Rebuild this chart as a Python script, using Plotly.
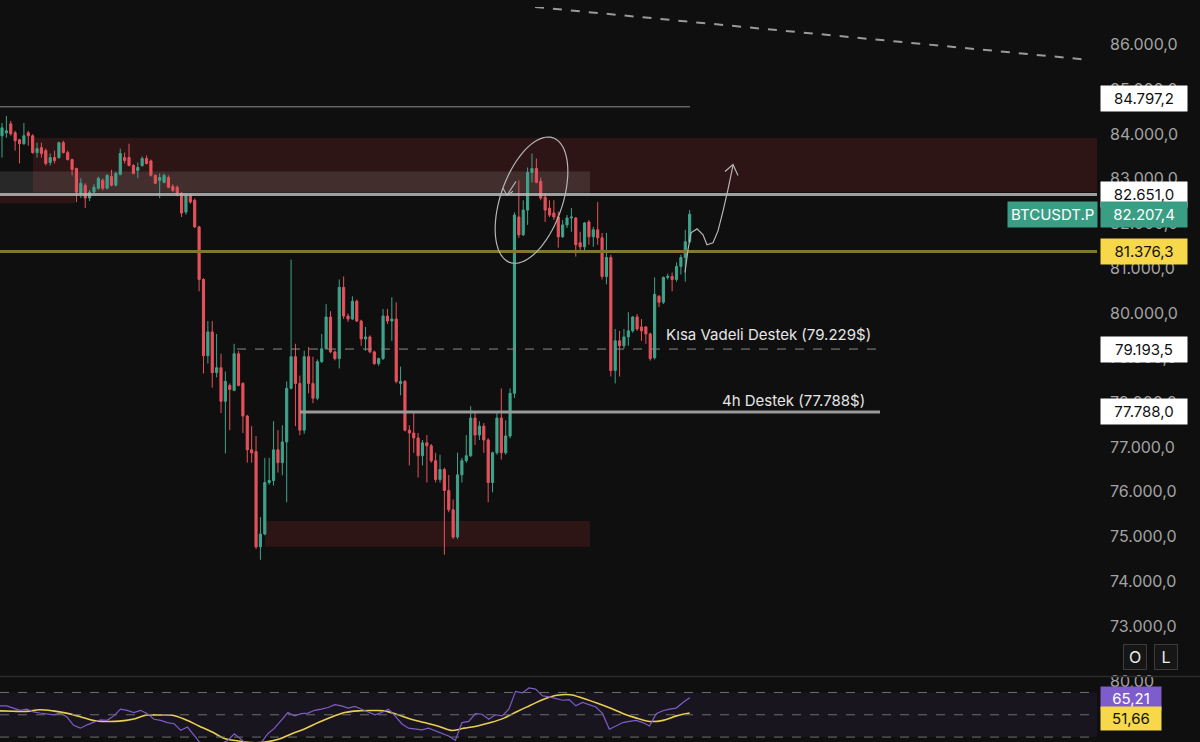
import numpy as np
import plotly.graph_objects as go

# ---------------- data ----------------
opens = [83963, 84029, 84229, 84029, 83874, 83785, 84029, 83963, 83586, 83697,
         83630, 83365, 83475, 83475, 83808, 83586, 83430, 83230, 82680, 82855,
         82570, 82700, 82790, 82970, 82790, 83050, 82855, 83100, 83475, 83475,
         83298, 83188, 83298, 83453, 83400, 83077, 82965, 82920, 83030, 82830,
         82810, 82680, 82257, 82634, 82520, 81925, 80750, 79045, 79577, 78666,
         78776, 78025, 78380, 78270, 79089, 78425, 77695, 76940, 76900, 74770,
         75058, 76210, 76254, 76940, 76653, 77115, 78315, 79023, 78425, 77380,
         79023, 78425, 78093, 78912, 79200, 79910, 79130, 78980, 80573, 79931,
         79865, 80263, 79820, 79420, 79465, 79130, 78868, 78980, 79931, 79820,
         79865, 78425, 78470, 77380, 77317, 77206, 76808, 77096, 77030, 76697,
         76276, 76500, 76030, 75600, 74990, 76380, 76697, 76808, 77650, 77270,
         77470, 77160, 76210, 76874, 77650, 76874, 77250, 78203, 82146, 81747,
         82300, 83143, 83232, 82945, 82590, 82345, 82235, 82146, 81703, 81969,
         82124, 82124, 81570, 81480, 82035, 81703, 81860, 81680, 80817, 81240,
         78712, 79377, 79266, 79465, 79600, 79910, 79687, 79687, 79532, 79000,
         80374, 80240, 80795, 80817, 80750, 81040, 81240, 81592]
highs = [84250, 84405, 84295, 84073, 83896, 84250, 84073, 84000, 83808, 83808,
         83675, 83564, 83630, 83830, 83852, 83630, 83450, 83250, 83010, 82900,
         82750, 82880, 83050, 83010, 83100, 83200, 83160, 83675, 83586, 83785,
         83330, 83365, 83500, 83520, 83430, 83100, 83120, 83120, 83077, 82880,
         82855, 82700, 82680, 82680, 82560, 81950, 80780, 79820, 79820, 79530,
         79090, 78690, 78425, 79311, 79150, 78450, 77720, 77470, 77250, 75435,
         76760, 76760, 77580, 77380, 77490, 78470, 81194, 79311, 78600, 79155,
         79240, 79023, 78960, 79532, 80197, 80040, 79160, 80750, 80817, 79990,
         80374, 80300, 79850, 79687, 79500, 79160, 79000, 80090, 80090, 80352,
         80240, 78800, 78500, 77490, 77780, 77317, 77160, 77270, 77070, 76874,
         76830, 76540, 76380, 75830, 76874, 76760, 77270, 77915, 77805, 77580,
         77540, 77200, 76900, 77760, 78315, 77600, 78315, 82250, 82965, 82520,
         83254, 83564, 83453, 83030, 82680, 82520, 82520, 82270, 82080, 82190,
         82345, 82146, 81815, 82035, 82080, 81925, 82480, 81790, 81790, 81304,
         79643, 79600, 79643, 80020, 79931, 79975, 79865, 79710, 79560, 80795,
         80400, 80817, 80880, 80905, 81130, 81304, 81860, 82300]
lows = [83475, 83918, 83963, 83630, 83343, 83760, 83741, 83560, 83475, 83475,
        83298, 83298, 83343, 83450, 83564, 83410, 83077, 82480, 82570, 82345,
        82500, 82680, 82760, 82740, 82760, 82830, 82830, 83077, 83343, 83280,
        83100, 83010, 83270, 83320, 83050, 82880, 82570, 82900, 82790, 82700,
        82610, 82146, 82200, 82440, 81900, 80485, 78646, 78868, 78330, 78560,
        77760, 76860, 77380, 78250, 78360, 77317, 76653, 76653, 74725, 74480,
        75030, 76160, 76140, 76431, 76370, 75767, 78290, 77470, 77270, 77300,
        78203, 77982, 78050, 78880, 79180, 79100, 78940, 78760, 79865, 79800,
        79840, 79800, 79266, 79155, 79100, 78840, 78820, 78950, 79754, 79377,
        78425, 78160, 77350, 76590, 76874, 76320, 76590, 76210, 76650, 76210,
        76210, 74593, 75545, 74947, 74947, 76210, 76650, 76780, 77050, 77160,
        76874, 75767, 75988, 76830, 76720, 76830, 77200, 78100, 81680, 81720,
        81969, 82920, 82900, 82520, 82035, 82146, 82080, 81460, 81680, 81900,
        81815, 81260, 81370, 81350, 81526, 81480, 81526, 80750, 80640, 78580,
        78425, 78580, 79200, 79266, 79560, 79600, 79377, 79311, 78935, 78960,
        80130, 80200, 80750, 80485, 80700, 80861, 80700, 81560]
closes = [84140, 84073, 84007, 83852, 83785, 83963, 83963, 83586, 83675, 83564,
          83343, 83475, 83410, 83808, 83586, 83430, 83210, 82700, 82900, 82570,
          82700, 82810, 83010, 82790, 83077, 82855, 83120, 83564, 83410, 83298,
          83120, 83254, 83453, 83343, 83077, 82900, 83030, 83077, 82810, 82744,
          82680, 82235, 82634, 82480, 81925, 80750, 79045, 79577, 78666, 78776,
          78025, 78470, 78290, 79089, 78380, 77695, 76940, 76874, 74770, 75058,
          76210, 76254, 76940, 76653, 77115, 78315, 79023, 78425, 77380, 79023,
          78425, 78093, 78912, 79200, 79910, 79130, 78980, 80573, 79931, 79865,
          80263, 79820, 79420, 79465, 79130, 78868, 78980, 79931, 79820, 79865,
          78470, 78470, 77380, 77317, 77206, 76808, 77096, 77030, 76697, 76276,
          76500, 76030, 75600, 74990, 76380, 76697, 76808, 77650, 77270, 77470,
          77160, 76210, 76874, 77650, 76874, 77250, 78203, 82190, 81747, 82300,
          83143, 83232, 82920, 82570, 82300, 82190, 82146, 81703, 81969, 82124,
          82146, 81526, 81480, 82013, 81703, 81860, 81680, 80817, 81240, 78712,
          79377, 79266, 79465, 79600, 79910, 79643, 79600, 79532, 78980, 80418,
          80240, 80795, 80817, 80750, 81040, 81240, 81592, 82207.4]

rsi_vals = [58, 58, 56, 54, 55, 52.6, 51.6, 50.5, 50, 51.5,
            48, 40.5, 38, 41, 43.5, 45.5, 45, 49, 55, 54,
            52, 54, 51, 46, 45, 43, 42, 36, 39, 32,
            24, 22, 21, 24, 27, 33, 28, 23, 22, 25,
            33, 38, 45, 52, 49, 51, 51.5, 54, 55, 56.5,
            59, 58, 56, 57.5, 55, 52.5, 50, 52, 55, 49,
            42, 38, 37.5, 36.5, 38, 35.5, 33.5, 31, 27, 43,
            44, 51, 50.5, 46, 50, 49, 55, 71, 69.6, 74,
            73, 67, 66, 64.6, 63, 63.6, 58, 61, 59, 57,
            51, 37, 40, 43, 44, 45, 43, 40, 51, 53.6,
            55, 56, 61, 65.21]
rsi_ma = [53.5, 53.2, 53, 54.5, 53.5, 51.5, 48.5, 45, 44, 44.3,
          46, 49.5, 49.8, 49.5, 45.5, 40, 34.5, 28.5, 26.5, 25,
          25.5, 28, 33, 37.5, 43, 48, 52, 53.5, 53.8, 53.5,
          50, 46, 43, 40, 36, 38, 40, 43, 47, 53,
          58.5, 64, 67.5, 68, 64.6, 60.5, 56, 51, 47, 44,
          45, 49, 51.66]

price_ticks = [73000, 74000, 75000, 76000, 77000, 78000, 79000, 80000,
               81000, 82000, 83000, 84000, 85000, 86000]
price_tick_text = ["73.000,0", "74.000,0", "75.000,0", "76.000,0", "77.000,0",
                   "78.000,0", "79.000,0", "80.000,0", "81.000,0", "82.000,0",
                   "83.000,0", "84.000,0", "85.000,0", "86.000,0"]

level_high = 84797.2
level_high_line = 84610
level_resist = 82651.0
level_yellow = 81376.3
level_short = 79193.5
level_4h = 77788.0
last_price = 82207.4
rsi_last = 65.21
ma_last = 51.66

zone_top = (83918, 82700)
zone_left = (82651, 82456)
zone_gray = (83165, 82676)
zone_bottom = (75347, 74771)

# ---------------- layout geometry ----------------
W, H = 1200, 742
R = 103
PW = W - R
C0, DX = 2.0, 4.38          # pixel of first candle & candle spacing
Y_TOP, PPX = 86842.0, 22.15  # price at top pixel, price per pixel
MAIN_BOTTOM_PX = 675
RSI_TOP_PX = 677

def ix(px):
    return (px - C0) / DX

def pr(py):
    return Y_TOP - PPX * py

x_range = [ix(0), ix(PW)]
main_range = [pr(MAIN_BOTTOM_PX), Y_TOP]
rsi_range = [25.6, 83.3]

BG = "#0f0f0f"
GREEN = "#3fa38a"
RED = "#e5525c"
FONT = "Inter, Roboto, sans-serif"
DRAW = "#b5b5b5"

n = len(closes)
xs = list(range(n))

fig = go.Figure()

fig.add_trace(go.Candlestick(
    x=xs, open=opens, high=highs, low=lows, close=closes,
    increasing=dict(line=dict(color=GREEN, width=1), fillcolor=GREEN),
    decreasing=dict(line=dict(color=RED, width=1), fillcolor=RED),
    whiskerwidth=0, showlegend=False, hoverinfo="skip",
    xaxis="x", yaxis="y",
))

rsi_x = np.linspace(ix(0), n - 1, len(rsi_vals))
ma_x = np.linspace(ix(0), n - 1, len(rsi_ma))
fig.add_trace(go.Scatter(x=ma_x, y=rsi_ma, mode="lines",
                         line=dict(color="#e9cf4f", width=1.6, shape="spline"),
                         showlegend=False, hoverinfo="skip", xaxis="x", yaxis="y2"))
fig.add_trace(go.Scatter(x=rsi_x, y=rsi_vals, mode="lines",
                         line=dict(color="#7e5ccc", width=1.2),
                         showlegend=False, hoverinfo="skip", xaxis="x", yaxis="y2"))

def pix_path(pts, close=False):
    s = "M " + " L ".join(f"{ix(px):.3f},{pr(py):.2f}" for px, py in pts)
    return s + (" Z" if close else "")

shapes = []
# zones
shapes.append(dict(type="rect", xref="x", yref="y", x0=ix(33), x1=ix(PW + 2),
                   y0=zone_top[1], y1=zone_top[0], fillcolor="rgba(120,38,38,0.30)",
                   line=dict(width=0), layer="below"))
shapes.append(dict(type="rect", xref="x", yref="y", x0=ix(-2), x1=ix(75),
                   y0=zone_left[1], y1=zone_left[0], fillcolor="rgba(120,38,38,0.30)",
                   line=dict(width=0), layer="below"))
shapes.append(dict(type="rect", xref="x", yref="y", x0=ix(-2), x1=ix(590),
                   y0=zone_gray[1], y1=zone_gray[0], fillcolor="rgba(200,200,200,0.14)",
                   line=dict(width=0), layer="below"))
shapes.append(dict(type="rect", xref="x", yref="y", x0=ix(265), x1=ix(590),
                   y0=zone_bottom[1], y1=zone_bottom[0], fillcolor="rgba(120,38,38,0.30)",
                   line=dict(width=0), layer="below"))
# level lines
shapes.append(dict(type="line", xref="x", yref="y", x0=ix(-2), x1=ix(690),
                   y0=level_high_line, y1=level_high_line,
                   line=dict(color="#8c8c8c", width=1), layer="below"))
shapes.append(dict(type="line", xref="paper", yref="y", x0=0, x1=1,
                   y0=level_resist, y1=level_resist,
                   line=dict(color="rgba(185,185,185,0.85)", width=3)))
shapes.append(dict(type="line", xref="paper", yref="y", x0=0, x1=1,
                   y0=level_yellow, y1=level_yellow,
                   line=dict(color="#7f7830", width=3)))
shapes.append(dict(type="line", xref="x", yref="y", x0=ix(237), x1=ix(880),
                   y0=level_short, y1=level_short,
                   line=dict(color="#8a8a8a", width=1, dash="dash")))
shapes.append(dict(type="line", xref="x", yref="y", x0=ix(300), x1=ix(880),
                   y0=level_4h, y1=level_4h,
                   line=dict(color="#9a9a9a", width=3)))
shapes.append(dict(type="line", xref="x", yref="y", x0=ix(535), x1=ix(1085),
                   y0=pr(0), y1=pr(53),
                   line=dict(color="#9a9a9a", width=2, dash="dash")))

# hand-drawn ellipse
cx, cy, a, b, th = 531.5, 195.0, 66.5, 31.0, np.deg2rad(18.8)
t = np.linspace(0, 2 * np.pi, 80)
ex = cx + a * np.cos(t) * np.sin(th) + b * np.sin(t) * np.cos(th)
ey = cy - a * np.cos(t) * np.cos(th) + b * np.sin(t) * np.sin(th)
shapes.append(dict(type="path", xref="x", yref="y", path=pix_path(zip(ex, ey), True),
                   line=dict(color=DRAW, width=1.2)))
# small arrow inside ellipse
for pts in ([(516, 176), (507, 190)], [(503, 183), (507, 190), (513, 186)]):
    shapes.append(dict(type="path", xref="x", yref="y", path=pix_path(pts),
                       line=dict(color=DRAW, width=1.1)))
# hand-drawn projection curve
curve = [(685, 268), (688, 245), (691, 228), (697, 224), (703, 230), (707, 240),
         (713, 238), (718, 226), (723, 206), (728, 184), (733, 160)]
shapes.append(dict(type="path", xref="x", yref="y", path=pix_path(curve),
                   line=dict(color=DRAW, width=1.2)))
shapes.append(dict(type="path", xref="x", yref="y",
                   path=pix_path([(725, 166), (733, 159), (738, 170)]),
                   line=dict(color=DRAW, width=1.2)))

# RSI panel
sep = 1 - 676 / H
shapes.append(dict(type="line", xref="paper", yref="paper", x0=0, x1=W / PW,
                   y0=sep, y1=sep, line=dict(color="#2c2c2c", width=1.5)))
shapes.append(dict(type="rect", xref="paper", yref="y2", x0=0, x1=1, y0=30, y1=70,
                   fillcolor="rgba(126,87,194,0.09)", line=dict(width=0), layer="below"))
for lv in (70, 50, 30):
    shapes.append(dict(type="line", xref="paper", yref="y2", x0=0, x1=1, y0=lv, y1=lv,
                       line=dict(color="#6e6e6e", width=1, dash="dash")))

annotations = []

def price_box(y, text, bg, fg, yref="y", yshift=0):
    annotations.append(dict(xref="paper", yref=yref, x=1, y=y, xanchor="left",
                            yanchor="middle", xshift=3, yshift=yshift, text=text,
                            showarrow=False, bgcolor=bg, borderpad=3, width=80,
                            align="center", font=dict(family=FONT, size=15, color=fg)))

price_box(level_high, "84.797,2", "#ffffff", "#111111")
price_box(level_resist, "82.651,0", "#ffffff", "#111111")
price_box(last_price, "82.207,4", "#3a9e85", "#ffffff")
price_box(level_yellow, "81.376,3", "#f6d84a", "#111111")
price_box(level_short, "79.193,5", "#ffffff", "#111111")
price_box(level_4h, "77.788,0", "#ffffff", "#111111")
annotations.append(dict(xref="paper", yref="y", x=1, y=last_price, xanchor="right",
                        yanchor="middle", xshift=1, text="BTCUSDT.P", showarrow=False,
                        bgcolor="#3a9e85", borderpad=3,
                        font=dict(family=FONT, size=15, color="#ffffff")))
# RSI value boxes
annotations.append(dict(xref="paper", yref="y2", x=1, y=rsi_last, xanchor="left",
                        yanchor="middle", xshift=3, yshift=-1, text="65,21", showarrow=False,
                        bgcolor="#7e5ccc", borderpad=2, width=56, align="center",
                        font=dict(family=FONT, size=15, color="#ffffff")))
annotations.append(dict(xref="paper", yref="y2", x=1, y=ma_last, xanchor="left",
                        yanchor="middle", xshift=3, yshift=-6, text="51,66", showarrow=False,
                        bgcolor="#f6d84a", borderpad=2, width=56, align="center",
                        font=dict(family=FONT, size=15, color="#111111")))
# level texts
annotations.append(dict(xref="x", yref="y", x=ix(664), y=pr(331), xanchor="left",
                        yanchor="middle", text="Kısa Vadeli Destek (79.229$)",
                        showarrow=False, font=dict(family=FONT, size=15, color="#e6e6e6")))
annotations.append(dict(xref="x", yref="y", x=ix(720), y=pr(397), xanchor="left",
                        yanchor="middle", text="4h Destek (77.788$)",
                        showarrow=False, font=dict(family=FONT, size=15, color="#e6e6e6")))
# O / L buttons
for px, lab in ((1135, "O"), (1166, "L")):
    annotations.append(dict(xref="paper", yref="paper", x=px / PW, y=1 - 656 / H,
                            xanchor="center", yanchor="middle", text=lab, showarrow=False,
                            bgcolor="#161616", bordercolor="#3c3c3c", borderwidth=1,
                            borderpad=3, width=16, height=18,
                            font=dict(family=FONT, size=16, color="#eeeeee")))

fig.update_layout(
    width=W, height=H,
    margin=dict(l=0, r=R, t=0, b=0),
    paper_bgcolor=BG, plot_bgcolor=BG,
    showlegend=False,
    shapes=shapes, annotations=annotations,
    xaxis=dict(range=x_range, domain=[0, 1], showgrid=False, zeroline=False,
               showticklabels=False, rangeslider=dict(visible=False),
               showline=False, ticks="", fixedrange=True),
    yaxis=dict(domain=[1 - MAIN_BOTTOM_PX / H, 1], range=main_range, side="right",
               tickvals=price_ticks, ticktext=price_tick_text, showgrid=False,
               zeroline=False, ticks="", ticklabelstandoff=12,
               tickfont=dict(family=FONT, size=16, color="#a3a3a3")),
    yaxis2=dict(domain=[0, 1 - RSI_TOP_PX / H], range=rsi_range, side="right",
                anchor="x", tickvals=[80], ticktext=["80,00"], showgrid=False,
                zeroline=False, ticks="", ticklabelstandoff=12,
                tickfont=dict(family=FONT, size=16, color="#a3a3a3")),
)

fig.write_html("out.html",
               config={"displayModeBar": False},
               post_script="document.body.style.margin='0px';"
                           "document.body.style.background='#0f0f0f';")
